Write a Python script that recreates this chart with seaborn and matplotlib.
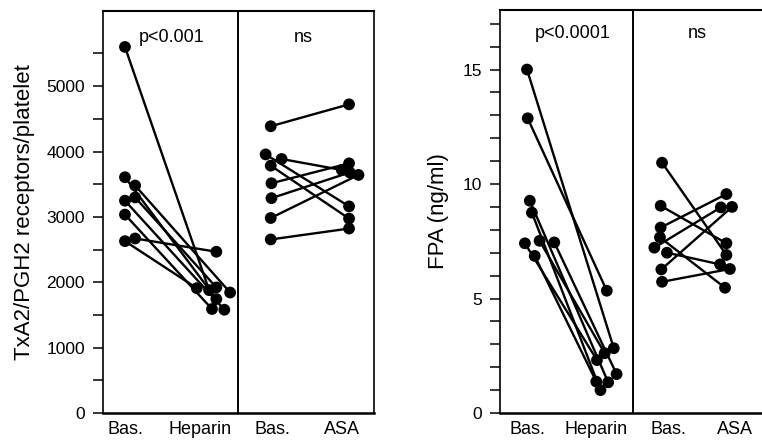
import numpy as np
import pandas as pd
import matplotlib
matplotlib.use("Agg")
import matplotlib.pyplot as plt
import seaborn as sns

# ---------------- data ----------------
xlabels = ["Bas.", "Heparin", "Bas.", "ASA"]

# Left panel: TxA2/PGH2 receptors/platelet
tx_bas_hep = [5600, 3607, 3480, 3248, 3298, 3035, 2629, 2670]
tx_heparin = [1880, 1743, 1843, 1580, 1921, 1591, 1910, 2467]
tx_bas_hep_x = [0.0, 0.0, 0.14, 0.0, 0.14, 0.0, 0.0, 0.14]
tx_heparin_x = [1.16, 1.26, 1.45, 1.37, 1.26, 1.20, 0.99, 1.26]

tx_bas_asa = [4387, 3956, 3886, 3784, 3515, 3287, 2983, 2655]
tx_asa = [4722, 3161, 3718, 2974, 3819, 3680, 3642, 2822]
tx_bas_asa_x = [2.01, 1.94, 2.16, 2.01, 2.02, 2.02, 2.01, 2.01]
tx_asa_x = [3.09, 3.09, 2.99, 3.09, 3.09, 3.10, 3.22, 3.09]

# Right panel: FPA (ng/ml)
fpa_bas_hep = [15.0, 12.87, 9.27, 8.75, 7.52, 7.41, 7.45, 6.86]
fpa_heparin = [2.83, 5.34, 1.34, 1.00, 2.61, 2.31, 1.70, 1.37]
fpa_bas_hep_x = [0.0, 0.01, 0.04, 0.07, 0.18, -0.03, 0.39, 0.11]
fpa_heparin_x = [1.24, 1.14, 1.16, 1.05, 1.11, 1.00, 1.28, 0.99]

fpa_bas_asa = [10.93, 9.05, 8.10, 7.67, 7.22, 7.00, 6.27, 5.73]
fpa_asa = [6.90, 7.41, 9.56, 5.47, 8.98, 6.49, 9.00, 6.29]
fpa_bas_asa_x = [1.93, 1.91, 1.91, 1.90, 1.82, 2.00, 1.92, 1.93]
fpa_asa_x = [2.85, 2.85, 2.85, 2.83, 2.77, 2.76, 2.93, 2.90]


def build(bh, h, bhx, hx, ba, a, bax, ax_):
    rows = []
    for i in range(len(bh)):
        rows.append(("h%d" % i, bhx[i], bh[i]))
        rows.append(("h%d" % i, hx[i], h[i]))
    for i in range(len(ba)):
        rows.append(("a%d" % i, bax[i], ba[i]))
        rows.append(("a%d" % i, ax_[i], a[i]))
    return pd.DataFrame(rows, columns=["subject", "x", "value"])


df_tx = build(tx_bas_hep, tx_heparin, tx_bas_hep_x, tx_heparin_x,
              tx_bas_asa, tx_asa, tx_bas_asa_x, tx_asa_x)
df_fpa = build(fpa_bas_hep, fpa_heparin, fpa_bas_hep_x, fpa_heparin_x,
               fpa_bas_asa, fpa_asa, fpa_bas_asa_x, fpa_asa_x)

# ---------------- style ----------------
sns.set_style("ticks")
plt.rcParams["font.family"] = ["Liberation Sans", "DejaVu Sans"]
plt.rcParams["axes.linewidth"] = 1.2
for k in ["text.color", "axes.labelcolor", "xtick.color", "ytick.color",
          "axes.edgecolor"]:
    plt.rcParams[k] = "black"

W, H = 762, 443
fig = plt.figure(figsize=(W / 100, H / 100), dpi=100)
ax1 = fig.add_axes([103 / W, 1 - 413 / H, 271 / W, 402 / H])
ax2 = fig.add_axes([500 / W, 1 - 413 / H, 274 / W, 403 / H])


def draw(ax, df):
    sns.lineplot(data=df, x="x", y="value", units="subject", estimator=None,
                 sort=False, color="black", linewidth=1.7, ax=ax, zorder=2,
                 legend=False)
    sns.scatterplot(data=df, x="x", y="value", color="black", s=72,
                    edgecolor="none", ax=ax, zorder=3, legend=False)
    ax.set_xlabel("")
    for sp in ax.spines.values():
        sp.set_visible(True)
        sp.set_color("black")
    ax.spines["bottom"].set_linewidth(1.8)
    ax.spines["top"].set_linewidth(1.5)
    ax.tick_params(axis="x", length=0, pad=6, labelsize=13, labelcolor="black")
    ax.tick_params(axis="y", which="both", direction="out", length=7,
                   width=1.1, pad=6, labelsize=12.5, color="black",
                   labelcolor="black")


# left panel
draw(ax1, df_tx)
ax1.set_xlim(-0.303, 3.434)
ax1.set_ylim(0, 6150)
ax1.set_yticks([0, 1000, 2000, 3000, 4000, 5000])
ax1.set_yticks([500, 1500, 2500, 3500, 4500, 5500], minor=True)
ax1.set_xticks([0, 1.03, 2.04, 2.99])
ax1.set_xticklabels(xlabels)
ax1.axvline(1.56, color="black", linewidth=1.4, zorder=1)
ax1.set_ylabel("TxA2/PGH2 receptors/platelet", fontsize=16, labelpad=8,
               color="black")
ax1.text(0.65, 5750, "p<0.001", ha="center", va="center", fontsize=13)
ax1.text(2.46, 5750, "ns", ha="center", va="center", fontsize=13)

# right panel
draw(ax2, df_fpa)
ax2.set_xlim(-0.386, 3.53)
ax2.set_ylim(0, 17.6)
ax2.set_yticks([0, 5, 10, 15])
ax2.set_yticks([1, 2, 3, 4, 6, 7, 8, 9, 11, 12, 13, 14, 16, 17], minor=True)
ax2.set_xticks([0, 0.98, 2.02, 2.97])
ax2.set_xticklabels(xlabels)
ax2.axvline(1.51, color="black", linewidth=1.4, zorder=1)
ax2.set_ylabel("FPA (ng/ml)", fontsize=16, labelpad=10, color="black")
ax2.text(0.66, 16.58, "p<0.0001", ha="center", va="center", fontsize=13)
ax2.text(2.43, 16.58, "ns", ha="center", va="center", fontsize=13)

fig.savefig("out.png", dpi=100)
